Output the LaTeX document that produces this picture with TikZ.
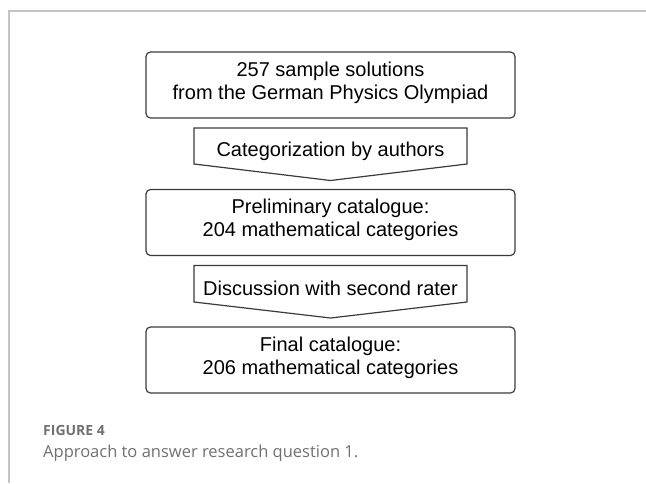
\documentclass[tikz,border=0pt]{standalone}
\usepackage{fontspec}
\setmainfont{Liberation Sans}
\newfontfamily\capfont{Open Sans}
\definecolor{boxline}{HTML}{3A3A3A}
\definecolor{framegray}{HTML}{C4C4C4}
\definecolor{capgray}{HTML}{707070}
\begin{document}
\begin{tikzpicture}[x=1pt, y=-1pt,
  stagebox/.style={rectangle, rounded corners=4.5pt, draw=boxline, line width=1.2pt, align=center,
    minimum width=369pt, minimum height=66pt, text depth=9.2pt, font=\fontsize{20}{23.3}\selectfont},
  acttext/.style={align=center, inner sep=0pt, text height=14.5pt, text depth=4.2pt,
    font=\fontsize{20}{23.3}\selectfont},
  actline/.style={draw=boxline, line width=1.2pt, line join=miter},
  frameline/.style={draw=framegray, line width=1.4pt},
]
\useasboundingbox (0,0) rectangle (646,483);
\draw[frameline] (9,483) -- (9,11) -- (646,11);
% flow
\node[stagebox] (samples) at (330.5,85) {257 sample solutions\\from the German Physics Olympiad};
\draw[actline] (194,128) -- (467,128) -- (467,164) -- (330.5,180.5) -- (194,164) -- cycle;
\node[acttext] (authors) at (330.5,151.6) {Categorization by authors};
\node[stagebox] (prelim) at (330.5,222.5) {Preliminary catalogue:\\204 mathematical categories};
\draw[actline] (194,265.5) -- (467,265.5) -- (467,302) -- (330.5,318) -- (194,302) -- cycle;
\node[acttext] (rater) at (330.5,289.9) {Discussion with second rater};
\node[stagebox] (final) at (330.5,360) {Final catalogue:\\206 mathematical categories};
% caption
\node[anchor=west, inner sep=0pt, text=capgray, font=\capfont\bfseries\fontsize{14}{16}\selectfont] (fignum) at (43,430) {FIGURE 4};
\node[anchor=west, inner sep=0pt, text=capgray, font=\capfont\fontsize{16.5}{20}\selectfont] (figcap) at (43,453) {Approach to answer research question 1.};
\end{tikzpicture}
\end{document}
